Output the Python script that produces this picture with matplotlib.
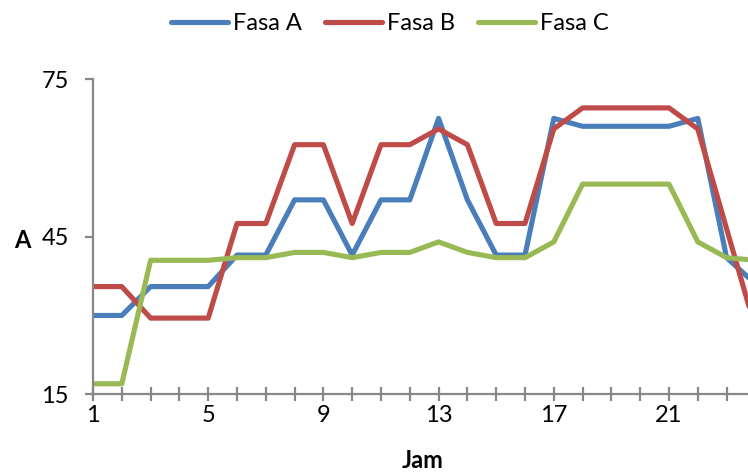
import matplotlib
matplotlib.use("Agg")
import matplotlib.pyplot as plt
from matplotlib.ticker import MultipleLocator, FixedLocator

# Hourly phase currents
hours = list(range(1, 25))
fasa_a = [30, 30, 35.5, 35.5, 35.5, 41.5, 41.5, 52, 52, 41.5, 52, 52,
          67.5, 52, 41.5, 41.5, 67.5, 66, 66, 66, 66, 67.5, 41, 36]
fasa_b = [35.5, 35.5, 29.5, 29.5, 29.5, 47.5, 47.5, 62.5, 62.5, 47.5, 62.5, 62.5,
          65.5, 62.5, 47.5, 47.5, 65.5, 69.5, 69.5, 69.5, 69.5, 65.5, 46.5, 27.5]
fasa_c = [17, 17, 40.5, 40.5, 40.5, 41, 41, 42, 42, 41, 42, 42,
          44, 42, 41, 41, 44, 55, 55, 55, 55, 44, 41, 40.5]
series_names = ["Fasa A", "Fasa B", "Fasa C"]
series_colors = ["#4A7EBB", "#BE4B48", "#98B954"]
y_ticks = [15, 45, 75]
x_ticks = [1, 5, 9, 13, 17, 21]

plt.rcParams["font.family"] = ["Lato", "DejaVu Sans"]
axis_gray = "#878787"

fig = plt.figure(figsize=(7.48, 4.74), dpi=100)
ax = fig.add_axes([93 / 748, 1 - 394.3 / 474, (748 - 93) / 748, (394.3 - 79) / 474])

for vals, name, col in zip([fasa_a, fasa_b, fasa_c], series_names, series_colors):
    ax.plot(hours, vals, color=col, lw=3.7, label=name,
            solid_joinstyle="round", solid_capstyle="round")

ax.set_xlim(1, 1 + (748 - 93) / 28.8)
ax.set_ylim(15, 75)
ax.yaxis.set_major_locator(FixedLocator(y_ticks))
ax.xaxis.set_major_locator(FixedLocator(x_ticks))
ax.xaxis.set_minor_locator(MultipleLocator(1))

for s in ["top", "right"]:
    ax.spines[s].set_visible(False)
for s in ["left", "bottom"]:
    ax.spines[s].set_color(axis_gray)
    ax.spines[s].set_linewidth(1.6)

ax.tick_params(axis="y", which="major", direction="out", length=5.5, width=1.6,
               color=axis_gray, labelsize=17, pad=12)
ax.tick_params(axis="x", which="both", direction="inout", length=10, width=1.6,
               color=axis_gray, labelsize=17, pad=3)

ax.set_ylabel("A", rotation=0, fontsize=17, fontweight="bold", ha="center", va="center")
ax.yaxis.set_label_coords((22 - 93) / 655, (394.3 - 240) / 315.3)
ax.set_xlabel("Jam", fontsize=17, fontweight="bold", va="center")
ax.xaxis.set_label_coords((423 - 93) / 655, (394.3 - 461) / 315.3)

fig.legend(loc="center", bbox_to_anchor=(390 / 748, 1 - 24 / 474), ncol=3,
           frameon=False, fontsize=17, handlelength=2.4, handletextpad=0.2,
           columnspacing=1.0)

fig.savefig("out.png", dpi=100)
